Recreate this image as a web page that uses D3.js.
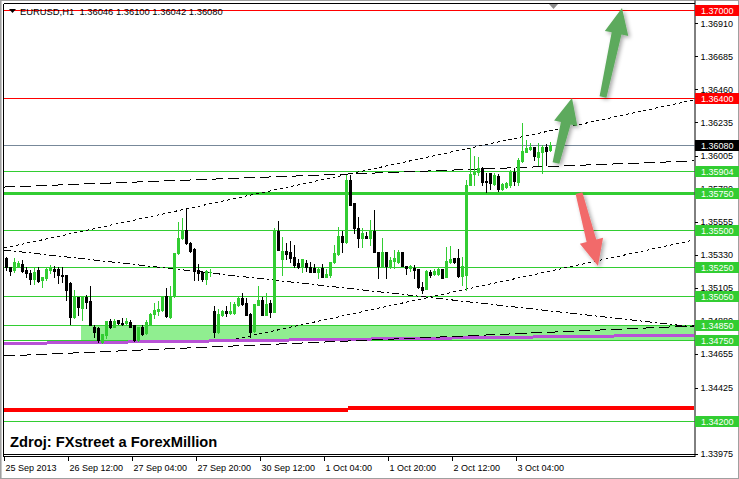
<!DOCTYPE html>
<html><head><meta charset="utf-8">
<script src="https://cdn.jsdelivr.net/npm/d3@7"></script>
<style>
body{margin:0;background:#fff}
svg{display:block}
text{font-family:"Liberation Sans",Arial,sans-serif}
</style>
</head><body>
<svg id="chart" width="739" height="479"></svg>
<script>
// ---------- DATA ----------
const symbolTitle = "EURUSD,H1";
const lastBarOHLC = [1.36046, 1.36100, 1.36042, 1.36080];
const sourceText = "Zdroj: FXstreet a ForexMillion";

// H1 candles [open, high, low, close], from 25 Sep 2013 20:00
const candles = [
[1.35308,1.35315,1.35226,1.35247],[1.35247,1.35247,1.35192,1.35219],[1.35226,1.35308,1.35212,1.35281],[1.35247,1.35288,1.35247,1.35274],
[1.35267,1.35294,1.35212,1.35219],[1.35226,1.35247,1.35178,1.35206],[1.35206,1.35226,1.35131,1.35165],[1.35165,1.35247,1.35131,1.35212],
[1.35226,1.35247,1.35144,1.35151],[1.35158,1.35178,1.35110,1.35178],[1.35172,1.35247,1.35158,1.35233],[1.35226,1.35260,1.35206,1.35240],
[1.35233,1.35253,1.35178,1.35219],[1.35233,1.35247,1.35137,1.35192],[1.35192,1.35247,1.35144,1.35185],[1.35192,1.35192,1.35022,1.35090],
[1.35137,1.35144,1.34858,1.34906],[1.34906,1.35090,1.34899,1.35042],[1.35042,1.35042,1.34919,1.34974],[1.34967,1.35042,1.34885,1.35042],
[1.35042,1.35056,1.34967,1.35008],[1.35015,1.35117,1.34851,1.34851],[1.34837,1.34851,1.34769,1.34803],[1.34831,1.34837,1.34735,1.34749],
[1.34735,1.34790,1.34728,1.34790],[1.34783,1.34878,1.34762,1.34878],[1.34878,1.34892,1.34831,1.34837],[1.34837,1.34892,1.34837,1.34878],
[1.34885,1.34885,1.34858,1.34865],[1.34865,1.34899,1.34851,1.34858],[1.34865,1.34899,1.34851,1.34878],[1.34871,1.34885,1.34837,1.34837],
[1.34851,1.34851,1.34742,1.34749],[1.34749,1.34837,1.34742,1.34837],[1.34837,1.34851,1.34783,1.34790],[1.34796,1.34885,1.34790,1.34871],
[1.34858,1.34933,1.34851,1.34926],[1.34926,1.35001,1.34899,1.34953],[1.34946,1.35015,1.34919,1.34960],[1.34953,1.35049,1.34946,1.35049],
[1.35049,1.35103,1.34906,1.34912],[1.34906,1.35117,1.34899,1.35049],[1.35049,1.35342,1.35042,1.35342],[1.35342,1.35553,1.35335,1.35444],
[1.35444,1.35581,1.35438,1.35499],[1.35499,1.35642,1.35403,1.35410],[1.35410,1.35417,1.35349,1.35356],[1.35369,1.35376,1.35158,1.35219],
[1.35226,1.35267,1.35158,1.35206],[1.35212,1.35219,1.35151,1.35165],[1.35165,1.35226,1.35131,1.35219],[1.35212,1.35233,1.35185,1.35212],
[1.34946,1.34981,1.34769,1.34803],[1.34803,1.34960,1.34796,1.34926],[1.34919,1.34953,1.34912,1.34946],[1.34946,1.34981,1.34912,1.34933],
[1.34933,1.35008,1.34926,1.34946],[1.34933,1.35008,1.34926,1.34994],[1.34987,1.35049,1.34981,1.35035],[1.35035,1.35069,1.34987,1.34994],
[1.35001,1.35035,1.34919,1.34919],[1.34926,1.34933,1.34769,1.34803],[1.34810,1.34994,1.34803,1.34994],[1.34987,1.35117,1.34987,1.35022],
[1.35022,1.35042,1.34919,1.34919],[1.34919,1.35069,1.34919,1.34994],[1.35001,1.35022,1.34906,1.34940],[1.34940,1.35513,1.34940,1.35492],
[1.35492,1.35560,1.35363,1.35363],[1.35301,1.35451,1.35192,1.35356],[1.35356,1.35410,1.35301,1.35335],[1.35349,1.35424,1.35281,1.35308],
[1.35315,1.35397,1.35247,1.35260],[1.35274,1.35301,1.35240,1.35247],[1.35247,1.35301,1.35212,1.35301],[1.35274,1.35294,1.35219,1.35247],
[1.35247,1.35281,1.35212,1.35212],[1.35240,1.35267,1.35212,1.35212],[1.35212,1.35240,1.35172,1.35233],[1.35240,1.35267,1.35178,1.35178],
[1.35178,1.35233,1.35178,1.35199],[1.35192,1.35281,1.35178,1.35281],[1.35281,1.35397,1.35274,1.35342],[1.35335,1.35519,1.35328,1.35458],
[1.35458,1.35492,1.35349,1.35417],[1.35417,1.35874,1.35410,1.35840],[1.35840,1.35874,1.35669,1.35669],[1.35683,1.35683,1.35478,1.35513],
[1.35513,1.35588,1.35383,1.35444],[1.35444,1.35513,1.35383,1.35478],[1.35458,1.35485,1.35444,1.35444],[1.35444,1.35567,1.35397,1.35492],
[1.35492,1.35635,1.35349,1.35349],[1.35349,1.35349,1.35172,1.35253],[1.35253,1.35444,1.35247,1.35349],[1.35349,1.35349,1.35172,1.35253],
[1.35253,1.35315,1.35240,1.35294],[1.35288,1.35363,1.35240,1.35308],[1.35281,1.35363,1.35274,1.35349],[1.35349,1.35349,1.35253,1.35253],
[1.35253,1.35253,1.35199,1.35240],[1.35240,1.35260,1.35219,1.35253],[1.35240,1.35260,1.35172,1.35226],[1.35233,1.35233,1.35103,1.35110],
[1.35110,1.35144,1.35069,1.35090],[1.35097,1.35226,1.35097,1.35219],[1.35212,1.35226,1.35178,1.35192],[1.35199,1.35233,1.35192,1.35219],
[1.35199,1.35247,1.35192,1.35233],[1.35233,1.35233,1.35172,1.35172],[1.35178,1.35383,1.35178,1.35288],[1.35281,1.35390,1.35274,1.35301],
[1.35308,1.35308,1.35274,1.35281],[1.35308,1.35369,1.35178,1.35185],[1.35185,1.35315,1.35124,1.35253],[1.35192,1.35840,1.35090,1.35806],
[1.35806,1.36058,1.35806,1.35881],[1.35881,1.36004,1.35806,1.35894],[1.35894,1.35997,1.35874,1.35922],[1.35922,1.35929,1.35806,1.35826],
[1.35833,1.35888,1.35758,1.35829],[1.35888,1.35888,1.35779,1.35819],[1.35813,1.35888,1.35806,1.35874],[1.35867,1.35881,1.35765,1.35779],
[1.35779,1.35819,1.35772,1.35813],[1.35792,1.35826,1.35785,1.35819],[1.35806,1.35908,1.35792,1.35894],[1.35894,1.35922,1.35806,1.35833],
[1.35826,1.35990,1.35806,1.35976],[1.35969,1.36229,1.35963,1.36038],[1.36031,1.36113,1.36031,1.36058],[1.36051,1.36092,1.36045,1.36065],
[1.36065,1.36065,1.35976,1.36004],[1.35997,1.36092,1.35942,1.36031],[1.36031,1.36079,1.35888,1.36065],[1.36065,1.36085,1.35942,1.36038],
[1.36046,1.36100,1.36042,1.36080]
];

const timeLabels = ["25 Sep 2013","26 Sep 12:00","27 Sep 04:00","27 Sep 20:00","30 Sep 12:00","1 Oct 04:00","1 Oct 20:00","2 Oct 12:00","3 Oct 04:00"];
const timeLabelBars = [0,16,32,48,64,80,96,112,128];

const priceTicks = [1.36910,1.36685,1.36460,1.36235,1.36005,1.35780,1.35555,1.35330,1.35105,1.34880,1.34655,1.34425,1.34200,1.33975];

const levelPrices = [1.37000,1.36400,1.36080,1.35904,1.35750,1.35500,1.35250,1.35050,1.34850,1.34750,1.34200];
const levelKinds  = ["res","res","bid","sup","supMajor","sup","sup","sup","sup","sup","sup"];

// support zone (rectangle) 1.3475 - 1.3485, starting at bar 18.75
const zonePrices = [1.34850, 1.34750];
const zoneStartBar = 18.75;

// trend lines: [barStart, priceStart, barEnd, priceEnd]
const trendUpper   = [-0.5,1.35377,172,1.36387];   // dotted
const trendFalling = [-0.5,1.35364,172,1.34839];   // dashed
const trendFlatTop = [-0.5,1.35793,172,1.35971];   // long dash
const trendLowerUp = [57.5,1.34757,172,1.35432];   // dotted
const trendFlatBot = [-0.5,1.34641,172,1.34846];   // long dash
const purpleLine   = [-0.5,1.34726,172,1.34784];
// heavy red level, two segments: [barStart, barEnd, price]
const heavyRedSegs = [[-0.5,85.5,1.34272],[85.5,172,1.34286]];

// arrows: [barFrom, priceFrom, barTo, priceTo]
const arrowUpBig   = [149.25,1.36407,154,1.37014];
const arrowUpSmall = [137.5,1.35957,141.5,1.36400];
const arrowDown    = [143.25,1.35752,148,1.35255];

// ---------- DRAW ----------
const W = 739, H = 479;
const plotL = 3.5, plotR = 694.5, plotT = 3.5, plotB = 454.5;
const svg = d3.select("#chart");

const x = d3.scaleLinear().domain([0, 136]).range([6, 550]);
const y = d3.scaleLinear().domain([1.33966, 1.37041]).range([455, 4]);

const colors = {green:"#32CD32", red:"#FF0000", bid:"#778899", black:"#000"};

const defs = svg.append("defs");
defs.append("clipPath").attr("id","plot").append("rect")
  .attr("x",plotL).attr("y",plotT).attr("width",plotR-plotL).attr("height",plotB-plotT);
const shadow = defs.append("filter").attr("id","soft").attr("x","-50%").attr("y","-50%").attr("width","200%").attr("height","200%");
shadow.append("feGaussianBlur").attr("in","SourceAlpha").attr("stdDeviation",2.2).attr("result","b");
shadow.append("feOffset").attr("in","b").attr("dx",2).attr("dy",2).attr("result","o");
shadow.append("feComponentTransfer").attr("in","o").attr("result","o2")
  .append("feFuncA").attr("type","linear").attr("slope",0.35);
shadow.append("feGaussianBlur").attr("in","SourceGraphic").attr("stdDeviation",0.7).attr("result","s");
const mg = shadow.append("feMerge");
mg.append("feMergeNode").attr("in","o2");
mg.append("feMergeNode").attr("in","s");

// outer window border
svg.append("rect").attr("x",0.5).attr("y",0.5).attr("width",W-1).attr("height",H-1)
  .attr("fill","#fff").attr("stroke","#a0a0a0");

const g = svg.append("g").attr("clip-path","url(#plot)");

// title (under the lines)
const title = svg.append("g");
title.append("path").attr("d","M9,9 L16,9 L12.5,13 Z").attr("fill","#000");
title.append("text").attr("x",20).attr("y",15).attr("font-size",9.4).attr("fill","#000")
  .attr("xml:space","preserve")
  .text(symbolTitle + "  " + lastBarOHLC.map(d=>d.toFixed(5)).join(" "));

// zone
g.append("rect").attr("x",Math.round(x(zoneStartBar))).attr("y",y(zonePrices[0]))
  .attr("width",plotR - x(zoneStartBar)).attr("height",y(zonePrices[1])-y(zonePrices[0]))
  .attr("fill","#90EE90");

// horizontal levels
levelPrices.forEach((p,i)=>{
  const k = levelKinds[i];
  const col = k==="res"?colors.red : k==="bid"?colors.bid : colors.green;
  const yy = Math.round(y(p)) + 0.5;
  g.append("line").attr("x1",plotL).attr("x2",plotR).attr("y1",yy).attr("y2",yy)
    .attr("stroke",col).attr("stroke-width",k==="supMajor"?3:1).attr("shape-rendering","crispEdges");
});

// heavy red line
heavyRedSegs.forEach(s=>{
  g.append("line").attr("x1",x(s[0])).attr("x2",x(s[1])).attr("y1",y(s[2])).attr("y2",y(s[2]))
    .attr("stroke",colors.red).attr("stroke-width",4).attr("shape-rendering","crispEdges");
});

// purple line
g.append("line").attr("x1",x(purpleLine[0])).attr("y1",y(purpleLine[1]))
  .attr("x2",x(purpleLine[2])).attr("y2",y(purpleLine[3]))
  .attr("stroke","#B852D6").attr("stroke-width",3).attr("shape-rendering","crispEdges");

// trend lines
function trend(t, dash){
  g.append("line").attr("x1",x(t[0])).attr("y1",y(t[1])).attr("x2",x(t[2])).attr("y2",y(t[3]))
    .attr("stroke","#000").attr("stroke-width",1).attr("stroke-dasharray",dash)
    .attr("shape-rendering","crispEdges");
}
trend(trendUpper,"3,3");
trend(trendFalling,"7,3,2,3");
trend(trendFlatTop,"11,5");
trend(trendLowerUp,"3,3");
trend(trendFlatBot,"11,5");

// candles
const cg = g.append("g");
candles.forEach((c,i)=>{
  const [o,h,l,cl] = c;
  const up = cl >= o;
  const col = up ? colors.green : colors.black;
  const cx = Math.round(x(i));
  cg.append("line").attr("x1",cx+0.5).attr("x2",cx+0.5).attr("y1",Math.round(y(h))).attr("y2",Math.round(y(l))+1)
    .attr("stroke",col).attr("shape-rendering","crispEdges");
  const top = Math.round(y(Math.max(o,cl))), bot = Math.round(y(Math.min(o,cl)));
  cg.append("rect").attr("x",cx-1).attr("y",top).attr("width",3).attr("height",Math.max(1,bot-top+1))
    .attr("fill",col).attr("shape-rendering","crispEdges");
});

// arrows
function arrow(a, fill){
  const x1=x(a[0]), y1=y(a[1]), x2=x(a[2]), y2=y(a[3]);
  const dx=x2-x1, dy=y2-y1, L=Math.hypot(dx,dy), ux=dx/L, uy=dy/L, px=-uy, py=ux;
  const s0=7, s1=10, hw=24, hl=26;
  const bx=x2-ux*hl, by=y2-uy*hl;
  const pts=[[x1+px*s0/2,y1+py*s0/2],[bx+px*s1/2,by+py*s1/2],[bx+px*hw/2,by+py*hw/2],[x2,y2],
             [bx-px*hw/2,by-py*hw/2],[bx-px*s1/2,by-py*s1/2],[x1-px*s0/2,y1-py*s0/2]];
  svg.append("polygon").attr("points",pts.map(p=>p.join(",")).join(" "))
    .attr("fill",fill).attr("filter","url(#soft)");
}
arrow(arrowUpBig,"#5DAA5D");
arrow(arrowUpSmall,"#5DAA5D");
arrow(arrowDown,"#F26B6B");

// frame
svg.append("line").attr("x1",plotL).attr("x2",plotL).attr("y1",plotT).attr("y2",457)
  .attr("stroke","#000").attr("shape-rendering","crispEdges");
svg.append("line").attr("x1",1.5).attr("x2",1.5).attr("y1",1).attr("y2",478)
  .attr("stroke","#c8c8c8").attr("shape-rendering","crispEdges");
svg.append("line").attr("x1",plotL).attr("x2",plotR).attr("y1",plotT).attr("y2",plotT)
  .attr("stroke","#000").attr("shape-rendering","crispEdges");
[454.5,456.5].forEach(v=>svg.append("line").attr("x1",plotL).attr("x2",plotR).attr("y1",v).attr("y2",v)
  .attr("stroke","#000").attr("shape-rendering","crispEdges"));

// top shift marker
svg.append("path").attr("d","M549,4 L558,4 L553.5,9 Z").attr("fill","#8c8c8c");

// right axis
const yAxis = d3.axisRight(y).tickValues(priceTicks).tickFormat(d3.format(".5f")).tickSize(3).tickPadding(3);
const ya = svg.append("g").attr("transform",`translate(${plotR},0)`).call(yAxis);
ya.select(".domain").attr("d",`M0.5,${plotT-3}V457`).attr("stroke","#000");
ya.selectAll(".tick line").attr("stroke","#000").attr("shape-rendering","crispEdges");
ya.selectAll(".tick text").attr("font-size",9).attr("fill","#000").attr("font-family","Liberation Sans, Arial, sans-serif");

// price label boxes
levelPrices.forEach((p,i)=>{
  const k = levelKinds[i];
  const col = k==="res"?colors.red : k==="bid"?colors.black : colors.green;
  const yy = Math.round(y(p));
  svg.append("rect").attr("x",695).attr("y",yy-5).attr("width",44).attr("height",11).attr("fill",col);
  svg.append("text").attr("x",701).attr("y",yy+4).attr("font-size",9).attr("fill","#fff").text(p.toFixed(5));
});

// bottom time axis
const xEdge = d3.scaleLinear().domain([0,136]).range([4,548]);
const xAxis = d3.axisBottom(xEdge).tickValues(timeLabelBars).tickFormat((d,i)=>timeLabels[i]).tickSize(4).tickPadding(4);
const xa = svg.append("g").attr("transform","translate(0,457)").call(xAxis);
xa.select(".domain").remove();
xa.selectAll(".tick line").attr("stroke","#000").attr("shape-rendering","crispEdges");
xa.selectAll(".tick text").attr("font-size",9).attr("fill","#000").attr("text-anchor","start").attr("dx",1)
  .attr("font-family","Liberation Sans, Arial, sans-serif");

// source text
svg.append("text").attr("x",10).attr("y",447).attr("font-size",14.7).attr("font-weight","bold")
  .attr("fill","#000").text(sourceText);
</script>
</body></html>
